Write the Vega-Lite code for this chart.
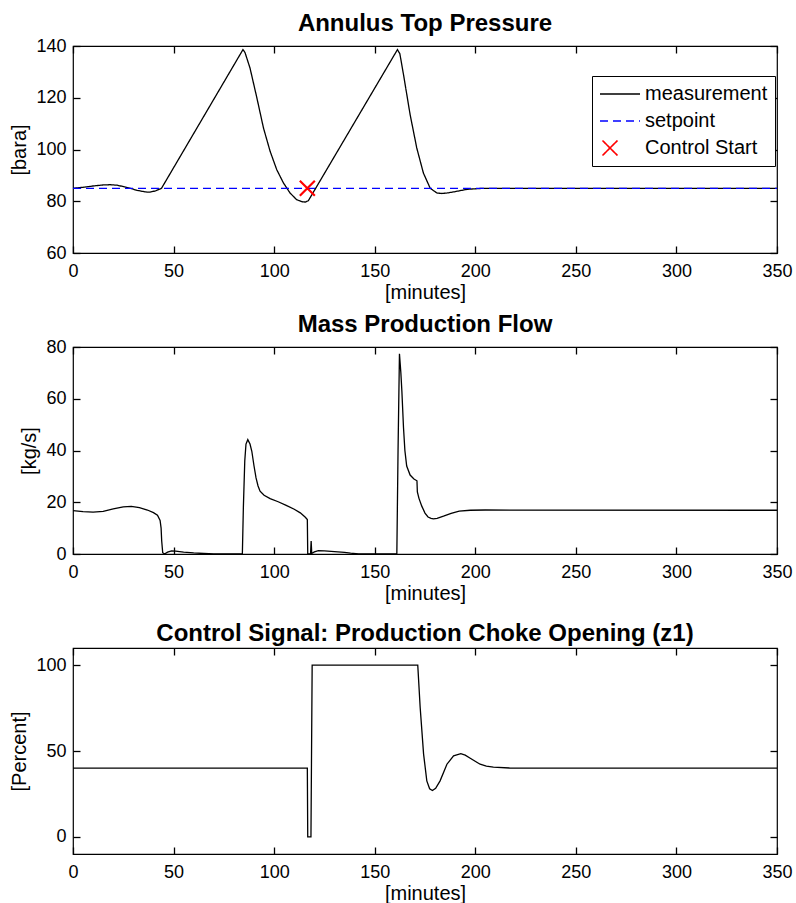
{
  "$schema": "https://vega.github.io/schema/vega-lite/v6.json",
  "padding": {"left": 9, "top": 11, "right": 5, "bottom": 5},
  "background": "white",
  "datasets": {
    "pressure": [
      {"t": 0, "v": 85.0, "series": "measurement"},
      {"t": 5, "v": 85.4, "series": "measurement"},
      {"t": 10, "v": 85.9, "series": "measurement"},
      {"t": 15, "v": 86.3, "series": "measurement"},
      {"t": 18.5, "v": 86.4, "series": "measurement"},
      {"t": 22, "v": 86.2, "series": "measurement"},
      {"t": 27, "v": 85.3, "series": "measurement"},
      {"t": 32, "v": 84.2, "series": "measurement"},
      {"t": 36, "v": 83.6, "series": "measurement"},
      {"t": 38, "v": 83.5, "series": "measurement"},
      {"t": 41, "v": 84.0, "series": "measurement"},
      {"t": 44, "v": 85.0, "series": "measurement"},
      {"t": 84.5, "v": 138.6, "series": "measurement"},
      {"t": 85.5, "v": 137.5, "series": "measurement"},
      {"t": 88, "v": 131.5, "series": "measurement"},
      {"t": 91.4, "v": 120.0, "series": "measurement"},
      {"t": 94.7, "v": 108.3, "series": "measurement"},
      {"t": 98, "v": 99.3, "series": "measurement"},
      {"t": 101.3, "v": 92.2, "series": "measurement"},
      {"t": 104.6, "v": 87.1, "series": "measurement"},
      {"t": 107.9, "v": 83.2, "series": "measurement"},
      {"t": 111.2, "v": 80.6, "series": "measurement"},
      {"t": 114, "v": 79.8, "series": "measurement"},
      {"t": 115.5, "v": 79.7, "series": "measurement"},
      {"t": 117, "v": 80.2, "series": "measurement"},
      {"t": 161.3, "v": 138.6, "series": "measurement"},
      {"t": 162.5, "v": 137.0, "series": "measurement"},
      {"t": 164.3, "v": 129.0, "series": "measurement"},
      {"t": 167.6, "v": 113.5, "series": "measurement"},
      {"t": 170.9, "v": 100.6, "series": "measurement"},
      {"t": 174.2, "v": 90.9, "series": "measurement"},
      {"t": 177.6, "v": 85.0, "series": "measurement"},
      {"t": 180.9, "v": 83.2, "series": "measurement"},
      {"t": 183.4, "v": 83.0, "series": "measurement"},
      {"t": 186, "v": 83.2, "series": "measurement"},
      {"t": 189.2, "v": 83.6, "series": "measurement"},
      {"t": 195.8, "v": 84.6, "series": "measurement"},
      {"t": 204, "v": 85.0, "series": "measurement"},
      {"t": 220, "v": 85.0, "series": "measurement"},
      {"t": 350, "v": 85.0, "series": "measurement"},
      {"t": 0, "v": 85.0, "series": "setpoint"},
      {"t": 350, "v": 85.0, "series": "setpoint"}
    ],
    "start": [
      {"t": 116.5, "v": 85.0, "series": "Control Start"}
    ],
    "flow": [
      {"t": 0, "v": 16.8}, {"t": 5, "v": 16.4}, {"t": 10, "v": 16.2}, {"t": 15, "v": 16.5},
      {"t": 20, "v": 17.4}, {"t": 25, "v": 18.2}, {"t": 29, "v": 18.4}, {"t": 33, "v": 17.9},
      {"t": 37, "v": 17.0}, {"t": 40, "v": 16.0}, {"t": 42, "v": 15.0}, {"t": 43.3, "v": 13.0},
      {"t": 43.8, "v": 10.0}, {"t": 44.1, "v": 5.0}, {"t": 44.6, "v": 0.5}, {"t": 45.5, "v": 0},
      {"t": 47, "v": 0.7}, {"t": 49, "v": 1.2}, {"t": 51, "v": 1.1}, {"t": 55, "v": 0.7},
      {"t": 60, "v": 0.4}, {"t": 65, "v": 0.2}, {"t": 70, "v": 0.05}, {"t": 84.2, "v": 0},
      {"t": 84.7, "v": 18}, {"t": 85.4, "v": 36}, {"t": 86.0, "v": 42.5}, {"t": 86.9, "v": 44.2},
      {"t": 88, "v": 42.5}, {"t": 88.9, "v": 39.7}, {"t": 90, "v": 34}, {"t": 91, "v": 29.4},
      {"t": 92, "v": 26.3}, {"t": 93, "v": 24.3}, {"t": 95, "v": 22.7}, {"t": 98, "v": 21.4},
      {"t": 102, "v": 20.2}, {"t": 106, "v": 18.8}, {"t": 110, "v": 17.3}, {"t": 113, "v": 15.9},
      {"t": 115.5, "v": 14.2}, {"t": 116.5, "v": 13.3}, {"t": 116.7, "v": 0}, {"t": 118.1, "v": 0},
      {"t": 118.4, "v": 5.0}, {"t": 118.7, "v": 0.2}, {"t": 120, "v": 0.8}, {"t": 122, "v": 1.3},
      {"t": 125, "v": 1.2}, {"t": 130, "v": 0.9}, {"t": 135, "v": 0.6}, {"t": 138, "v": 0.3},
      {"t": 142, "v": 0}, {"t": 161, "v": 0}, {"t": 161.6, "v": 40}, {"t": 162.3, "v": 77.4},
      {"t": 163.0, "v": 70}, {"t": 163.5, "v": 63}, {"t": 164.3, "v": 49}, {"t": 165, "v": 40},
      {"t": 165.9, "v": 34}, {"t": 167.6, "v": 30.5}, {"t": 169.5, "v": 29}, {"t": 171, "v": 28.3},
      {"t": 171.2, "v": 24}, {"t": 172, "v": 21.5}, {"t": 173.4, "v": 18.5}, {"t": 175, "v": 15.8},
      {"t": 176.5, "v": 14.3}, {"t": 178, "v": 13.8}, {"t": 179.2, "v": 13.6}, {"t": 181, "v": 13.8},
      {"t": 184.2, "v": 14.6}, {"t": 188, "v": 15.7}, {"t": 192, "v": 16.6}, {"t": 197.5, "v": 16.9},
      {"t": 205, "v": 17.0}, {"t": 350, "v": 16.9}
    ],
    "choke": [
      {"t": 0, "v": 40}, {"t": 116.5, "v": 40}, {"t": 116.7, "v": 0}, {"t": 118.3, "v": 0},
      {"t": 118.9, "v": 100}, {"t": 171.4, "v": 100}, {"t": 172.6, "v": 75.3}, {"t": 174.3, "v": 48.2},
      {"t": 175.9, "v": 32.6}, {"t": 177.3, "v": 28}, {"t": 178.7, "v": 27}, {"t": 180.3, "v": 28.3},
      {"t": 182.5, "v": 32.6}, {"t": 185.9, "v": 42.3}, {"t": 189.2, "v": 47.2}, {"t": 192.8, "v": 48.5},
      {"t": 195, "v": 47.6}, {"t": 197.5, "v": 45.8}, {"t": 202.4, "v": 42.3}, {"t": 205.5, "v": 41.2},
      {"t": 209, "v": 40.6}, {"t": 217, "v": 40.1}, {"t": 230, "v": 40}, {"t": 350, "v": 40}
    ]
  },
  "vconcat": [
    {
      "title": {"text": "Annulus Top Pressure"},
      "width": 704,
      "height": 207,
      "resolve": {"axis": {"x": "independent", "y": "independent"}},
      "layer": [
        {
          "data": {"name": "pressure"},
          "mark": {"type": "line", "strokeWidth": 1.3},
          "encoding": {
            "x": {"field": "t", "type": "quantitative", "scale": {"domain": [0, 350], "nice": false, "zero": false},
                  "axis": {"values": [0, 50, 100, 150, 200, 250, 300, 350], "title": "[minutes]"}},
            "y": {"field": "v", "type": "quantitative", "scale": {"domain": [60, 140], "nice": false, "zero": false},
                  "axis": {"values": [60, 80, 100, 120, 140], "title": "[bara]"}},
            "color": {"field": "series", "type": "nominal",
                      "scale": {"domain": ["measurement", "setpoint", "Control Start"], "range": ["#000000", "#0000ff", "#ff0000"]},
                      "legend": {"orient": "none", "legendX": 519, "legendY": 30, "title": null}},
            "strokeDash": {"field": "series", "type": "nominal",
                      "scale": {"domain": ["measurement", "setpoint", "Control Start"], "range": [[1, 0], [8, 5], [1, 0]]},
                      "legend": {"orient": "none", "legendX": 519, "legendY": 30, "title": null}}
          }
        },
        {
          "data": {"name": "start"},
          "mark": {"type": "point", "filled": false, "size": 400, "strokeWidth": 2.2, "opacity": 1},
          "encoding": {
            "x": {"field": "t", "type": "quantitative", "scale": {"domain": [0, 350], "nice": false, "zero": false},
                  "axis": {"orient": "top", "values": [0, 50, 100, 150, 200, 250, 300, 350], "labels": false, "title": null}},
            "y": {"field": "v", "type": "quantitative", "scale": {"domain": [60, 140], "nice": false, "zero": false},
                  "axis": {"orient": "right", "values": [60, 80, 100, 120, 140], "labels": false, "title": null}},
            "color": {"field": "series", "type": "nominal",
                      "scale": {"domain": ["measurement", "setpoint", "Control Start"], "range": ["#000000", "#0000ff", "#ff0000"]},
                      "legend": {"orient": "none", "legendX": 519, "legendY": 30, "title": null}},
            "shape": {"field": "series", "type": "nominal",
                      "scale": {"domain": ["measurement", "setpoint", "Control Start"], "range": ["M-1,0L3,0", "M-1,0L3,0", "M-0.75,-0.75L0.75,0.75M-0.75,0.75L0.75,-0.75"]},
                      "legend": {"orient": "none", "legendX": 519, "legendY": 30, "title": null}}
          }
        }
      ]
    },
    {
      "title": {"text": "Mass Production Flow"},
      "width": 704,
      "height": 207,
      "data": {"name": "flow"},
      "resolve": {"axis": {"x": "independent", "y": "independent"}},
      "layer": [
        {
          "mark": {"type": "line", "color": "black", "strokeWidth": 1.3},
          "encoding": {
            "x": {"field": "t", "type": "quantitative", "scale": {"domain": [0, 350], "nice": false, "zero": false},
                  "axis": {"values": [0, 50, 100, 150, 200, 250, 300, 350], "title": "[minutes]"}},
            "y": {"field": "v", "type": "quantitative", "scale": {"domain": [0, 80], "nice": false, "zero": false},
                  "axis": {"values": [0, 20, 40, 60, 80], "title": "[kg/s]"}}
          }
        },
        {
          "mark": {"type": "line", "color": "black", "strokeOpacity": 0},
          "encoding": {
            "x": {"field": "t", "type": "quantitative", "scale": {"domain": [0, 350], "nice": false, "zero": false},
                  "axis": {"orient": "top", "values": [0, 50, 100, 150, 200, 250, 300, 350], "labels": false, "title": null}},
            "y": {"field": "v", "type": "quantitative", "scale": {"domain": [0, 80], "nice": false, "zero": false},
                  "axis": {"orient": "right", "values": [0, 20, 40, 60, 80], "labels": false, "title": null}}
          }
        }
      ]
    },
    {
      "title": {"text": "Control Signal: Production Choke Opening (z1)"},
      "width": 704,
      "height": 206,
      "data": {"name": "choke"},
      "resolve": {"axis": {"x": "independent", "y": "independent"}},
      "layer": [
        {
          "mark": {"type": "line", "color": "black", "strokeWidth": 1.3},
          "encoding": {
            "x": {"field": "t", "type": "quantitative", "scale": {"domain": [0, 350], "nice": false, "zero": false},
                  "axis": {"values": [0, 50, 100, 150, 200, 250, 300, 350], "title": "[minutes]"}},
            "y": {"field": "v", "type": "quantitative", "scale": {"domain": [-10, 110], "nice": false, "zero": false},
                  "axis": {"values": [0, 50, 100], "title": "[Percent]"}}
          }
        },
        {
          "mark": {"type": "line", "color": "black", "strokeOpacity": 0},
          "encoding": {
            "x": {"field": "t", "type": "quantitative", "scale": {"domain": [0, 350], "nice": false, "zero": false},
                  "axis": {"orient": "top", "values": [0, 50, 100, 150, 200, 250, 300, 350], "labels": false, "title": null}},
            "y": {"field": "v", "type": "quantitative", "scale": {"domain": [-10, 110], "nice": false, "zero": false},
                  "axis": {"orient": "right", "values": [0, 50, 100], "labels": false, "title": null}}
          }
        }
      ]
    }
  ],
  "spacing": 94,
  "bounds": "flush",
  "config": {
    "font": "Liberation Sans",
    "view": {"stroke": "black", "strokeWidth": 1.2},
    "axis": {
      "domain": false, "grid": false, "zindex": 1,
      "tickColor": "black", "tickSize": -7, "tickWidth": 1.3,
      "labelColor": "black", "labelFontSize": 18, "labelFont": "Liberation Sans",
      "labelFlush": false, "labelOverlap": false, "labelBound": false,
      "titleFontSize": 20, "titleFontWeight": "normal", "titleColor": "black", "titleFont": "Liberation Sans"
    },
    "axisX": {"labelPadding": 16, "titlePadding": 2},
    "axisY": {"labelPadding": 14, "titlePadding": 6},
    "title": {"fontSize": 24, "fontWeight": "bold", "color": "black", "font": "Liberation Sans", "offset": 1},
    "legend": {
      "labelFontSize": 20, "labelFont": "Liberation Sans", "labelColor": "black", "labelLimit": 400,
      "symbolSize": 400, "symbolStrokeWidth": 1.6,
      "strokeColor": "black", "fillColor": "white", "padding": 7,
      "rowPadding": 6, "labelOffset": 24, "symbolOffset": 0
    }
  }
}
